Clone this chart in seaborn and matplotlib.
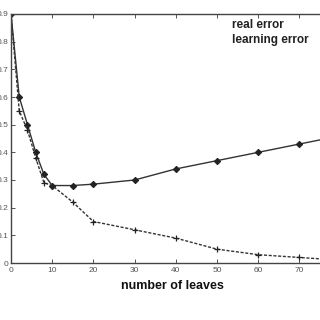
import matplotlib
matplotlib.use("Agg")
import matplotlib.pyplot as plt
import seaborn as sns
import pandas as pd

leaves = [0, 2, 4, 6, 8, 10, 15, 20, 30, 40, 50, 60, 70, 80]
real_error = [0.9, 0.6, 0.5, 0.4, 0.32, 0.28, 0.28, 0.285, 0.30, 0.34, 0.37, 0.40, 0.43, 0.46]
learning_error = [0.9, 0.55, 0.48, 0.38, 0.29, 0.28, 0.22, 0.15, 0.12, 0.09, 0.05, 0.03, 0.02, 0.01]
series_names = ["real error", "learning error"]
x_ticks = [0, 10, 20, 30, 40, 50, 60, 70]
y_ticks = [0, 0.1, 0.2, 0.3, 0.4, 0.5, 0.6, 0.7, 0.8, 0.9]
x_label = "number of leaves"

sns.set_style("ticks")
plt.rcParams["font.family"] = ["Liberation Sans", "DejaVu Sans"]

df = pd.DataFrame({"leaves": leaves, "real": real_error, "learning": learning_error})

fig = plt.figure(figsize=(3.2, 3.2), dpi=100)
# axes extends beyond the right edge (cropped original)
ax = fig.add_axes([11 / 320, 57 / 320, 412 / 320, 249 / 320])

sns.lineplot(data=df, x="leaves", y="real", ax=ax, color="#333333", lw=1.0,
             marker="D", markersize=3.2, markeredgecolor="#222222",
             markerfacecolor="#222222")
sns.lineplot(data=df, x="leaves", y="learning", ax=ax, color="#333333", lw=1.0,
             linestyle=(0, (2.2, 1.2)), marker="+", markersize=5,
             markeredgewidth=0.9, markeredgecolor="#222222")

ax.set_xlim(0, 100)
ax.set_ylim(0, 0.9)
ax.set_xticks(x_ticks)
ax.set_yticks(y_ticks)
ax.set_xticklabels([str(v) for v in x_ticks], fontsize=6, color="#555555")
ax.set_yticklabels(["0" if v == 0 else f"{v:.1f}" for v in y_ticks],
                   fontsize=6, color="#555555")
ax.tick_params(direction="in", length=3, width=0.7, top=True, right=True,
               colors="#555555", labelcolor="#555555")
ax.tick_params(axis="x", pad=3)
ax.tick_params(axis="y", pad=1.8)
for s in ax.spines.values():
    s.set_linewidth(1.0)
    s.set_color("#444444")
    s.set_visible(True)

ax.set_xlabel(x_label, fontsize=9, fontweight="bold", color="#111111")
ax.xaxis.set_label_coords(((121 + 223) / 2 - 11) / 412, -0.07)
ax.set_ylabel("")

ax.text(232, 320 - 25, series_names[0], transform=None, fontsize=8.5,
        fontweight="bold", color="#222222", va="center", ha="left")
ax.text(232, 320 - 40, series_names[1], transform=None, fontsize=8.5,
        fontweight="bold", color="#222222", va="center", ha="left")

fig.savefig("out.png", dpi=100, facecolor="white")
